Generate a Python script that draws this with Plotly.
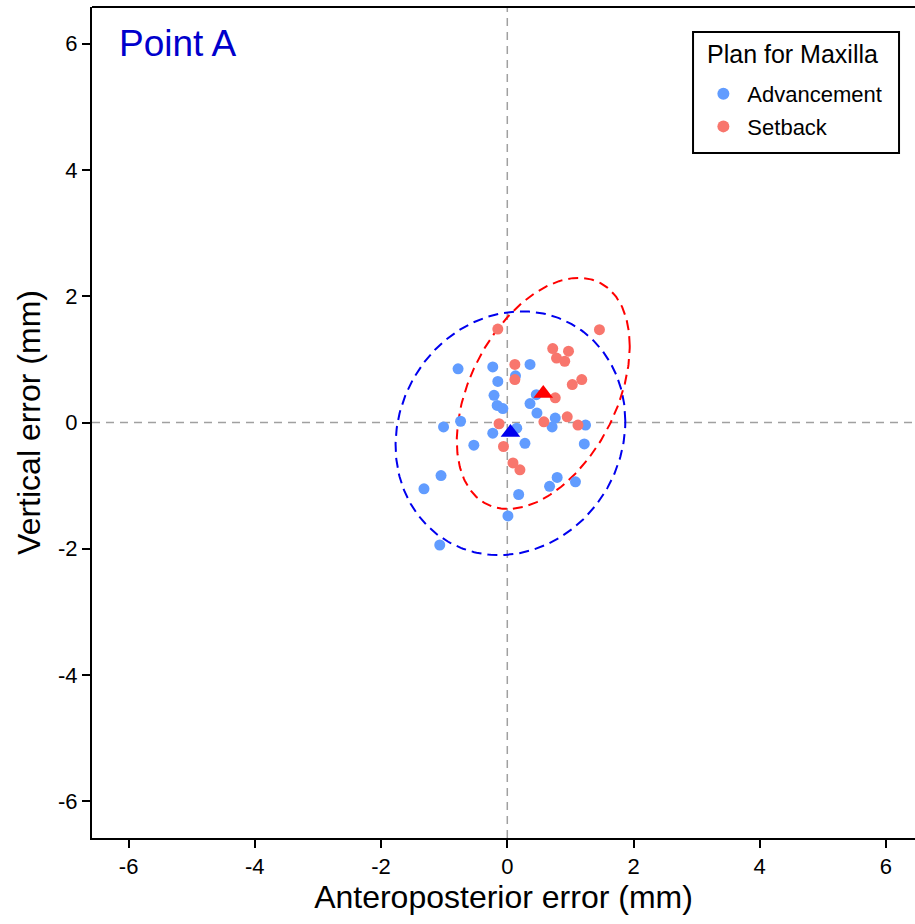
import numpy as np
import plotly.graph_objects as go

# ---- data ----
adv_x = [-0.78, -0.23, 0.36, -0.15, 0.13, -0.21, -0.16, -0.07, 0.36, 0.46, 0.47, 0.76, 0.71, 1.24, 1.22,
         -1.01, -0.74, -0.23, 0.15, 0.28, -0.53, -1.05, -1.32, 0.79, 0.67, 1.08, 0.18, 0.01, -1.07]
adv_y = [0.85, 0.88, 0.92, 0.65, 0.74, 0.43, 0.27, 0.22, 0.30, 0.44, 0.15, 0.07, -0.07, -0.04, -0.34,
         -0.07, 0.02, -0.17, -0.09, -0.33, -0.36, -0.84, -1.05, -0.87, -1.01, -0.94, -1.14, -1.48, -1.94]

set_x = [-0.15, 1.46, 0.72, 0.97, 0.78, 0.91, 0.12, 0.12, 1.18, 1.03, 0.76, 0.95, 0.58, 1.12,
         -0.13, -0.06, 0.09, 0.20]
set_y = [1.48, 1.47, 1.17, 1.13, 1.02, 0.97, 0.92, 0.68, 0.68, 0.60, 0.39, 0.09, 0.01, -0.04,
         -0.02, -0.38, -0.64, -0.75]

# group means (triangles)
mean_adv = [0.05, -0.16]
mean_set = [0.57, 0.46]

# ellipse descriptors: centre, half-extent in x, half-extent in y, correlation
ell_adv = dict(cx=0.05, cy=-0.17, hx=1.82, hy=1.93, r=0.10)
ell_set = dict(cx=0.57, cy=0.46, hx=1.37, hy=1.83, r=0.41)

x_ticks = [-6, -4, -2, 0, 2, 4, 6]
y_ticks = [-6, -4, -2, 0, 2, 4, 6]

C_ADV = "#619CFF"
C_SET = "#F8766D"
C_ADV_DARK = "#0000EE"
C_SET_DARK = "#FF0000"
FONT = "Liberation Sans, Arial, sans-serif"


def ellipse(p, n=300):
    t = np.linspace(0, 2 * np.pi, n)
    x = p["cx"] + p["hx"] * np.cos(t)
    y = p["cy"] + p["hy"] * (p["r"] * np.cos(t) + np.sqrt(1 - p["r"] ** 2) * np.sin(t))
    return x, y


fig = go.Figure()

ex, ey = ellipse(ell_adv)
fig.add_trace(go.Scatter(x=ex, y=ey, mode="lines", line=dict(color=C_ADV_DARK, width=2, dash="10px,6px"),
                         showlegend=False, hoverinfo="skip"))
ex, ey = ellipse(ell_set)
fig.add_trace(go.Scatter(x=ex, y=ey, mode="lines", line=dict(color=C_SET_DARK, width=2, dash="10px,6px"),
                         showlegend=False, hoverinfo="skip"))

fig.add_trace(go.Scatter(x=adv_x, y=adv_y, mode="markers", name="Advancement", legendgroup="a",
                         marker=dict(color=C_ADV, size=11, line=dict(width=0))))
fig.add_trace(go.Scatter(x=set_x, y=set_y, mode="markers", name="Setback", legendgroup="b",
                         marker=dict(color=C_SET, size=11, line=dict(width=0))))

fig.add_trace(go.Scatter(x=[mean_adv[0]], y=[mean_adv[1]], mode="markers", showlegend=False,
                         marker=dict(symbol="triangle-up", color=C_ADV_DARK, size=17, line=dict(width=0))))
fig.add_trace(go.Scatter(x=[mean_set[0]], y=[mean_set[1]], mode="markers", showlegend=False,
                         marker=dict(symbol="triangle-up", color=C_SET_DARK, size=17, line=dict(width=0))))

# zero reference lines
fig.add_shape(type="line", xref="x", yref="paper", x0=0, x1=0, y0=0, y1=1,
              line=dict(color="#A0A0A0", width=1.5, dash="8px,6px"), layer="below")
fig.add_shape(type="line", xref="paper", yref="y", x0=0, x1=1, y0=0, y1=0,
              line=dict(color="#A0A0A0", width=1.5, dash="8px,6px"), layer="below")
# top border
fig.add_shape(type="line", xref="paper", yref="paper", x0=0, x1=1, y0=1, y1=1,
              line=dict(color="black", width=2))

# legend frame + title
fig.add_shape(type="rect", xref="paper", yref="paper", x0=0.7303, x1=0.9806, y0=0.8243, y1=0.9699,
              line=dict(color="black", width=2), fillcolor="white", layer="above")
fig.add_annotation(x=0.745, y=0.9434, xref="paper", yref="paper", text="Plan for Maxilla", showarrow=False,
                   xanchor="left", yanchor="middle", font=dict(family=FONT, size=25, color="black"))

fig.add_annotation(x=-6.18, y=6.0, xref="x", yref="y", text="Point A", showarrow=False,
                   xanchor="left", yanchor="middle", font=dict(family=FONT, size=37, color="#0000CC"))

fig.update_layout(
    width=915, height=924,
    margin=dict(l=92, r=0, t=7, b=86),
    paper_bgcolor="white", plot_bgcolor="white",
    font=dict(family=FONT, size=22, color="black"),
    legend=dict(
        x=0.738, xanchor="left", y=0.9206, yanchor="top",
        borderwidth=0, bgcolor="rgba(0,0,0,0)",
        font=dict(size=22, family=FONT), itemsizing="constant", tracegroupgap=1, itemwidth=38,
    ),
    xaxis=dict(
        range=[-6.58, 6.46], tickvals=x_ticks, ticktext=[str(v) for v in x_ticks],
        showgrid=False, zeroline=False, showline=True, linecolor="black", linewidth=2,
        ticks="outside", ticklen=8, tickwidth=1.5, tickcolor="black",
        tickfont=dict(size=22, family=FONT),
        title=dict(text="Anteroposterior error (mm)", font=dict(size=32, family=FONT), standoff=6),
    ),
    yaxis=dict(
        range=[-6.58, 6.58], tickvals=y_ticks, ticktext=[str(v) for v in y_ticks],
        showgrid=False, zeroline=False, showline=True, linecolor="black", linewidth=2,
        ticks="outside", ticklen=8, tickwidth=1.5, tickcolor="black",
        tickfont=dict(size=22, family=FONT),
        title=dict(text="Vertical error (mm)", font=dict(size=32, family=FONT), standoff=8),
    ),
)

fig.write_html("out.html")
